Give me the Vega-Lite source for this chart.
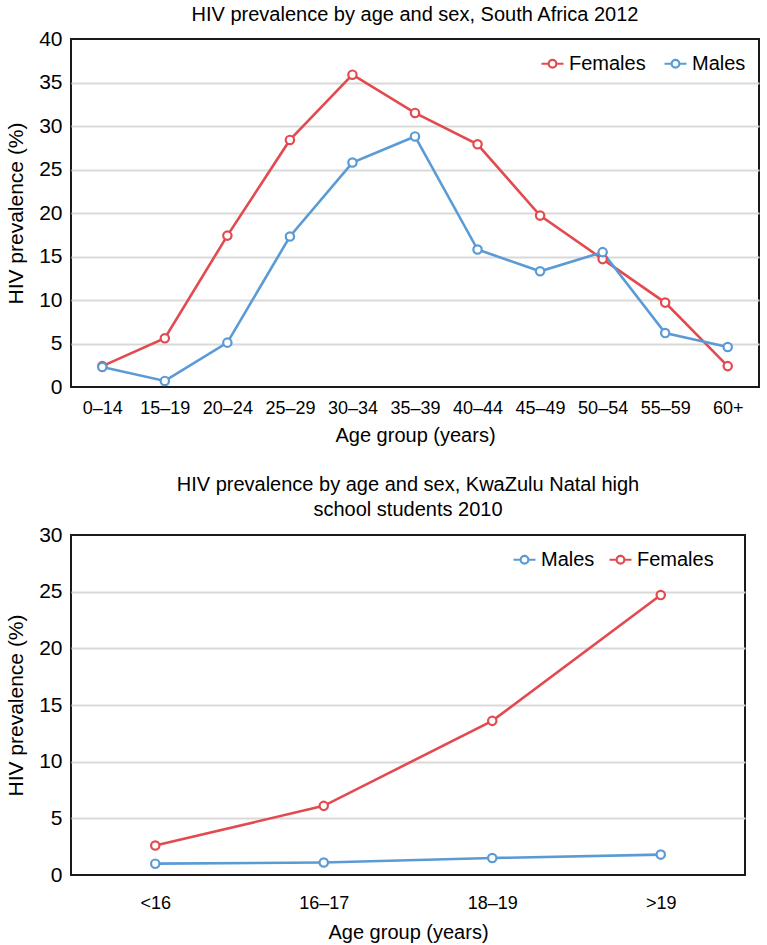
{
  "$schema": "https://vega.github.io/schema/vega-lite/v6.json",
  "background": "white",
  "padding": {"left": 4, "top": 4, "right": 4, "bottom": 2},
  "config": {
    "font": "Liberation Sans",
    "view": {"stroke": "#1a1a1a", "strokeWidth": 2},
    "axis": {"domain": false, "ticks": false, "labelColor": "#000", "titleColor": "#000", "titleFontWeight": "normal", "labelFont": "Liberation Sans", "titleFont": "Liberation Sans"},
    "title": {"fontSize": 20, "fontWeight": "normal", "color": "#000", "font": "Liberation Sans"},
    "legend": {"labelFont": "Liberation Sans"},
    "concat": {"spacing": 28}
  },
  "vconcat": [
    {
      "title": {"text": "HIV prevalence by age and sex, South Africa 2012", "anchor": "middle", "frame": "group", "offset": 3},
      "width": 688,
      "height": 348,
      "data": {"values": [
        {"age": "0–14", "sex": "Females", "value": 2.4},
        {"age": "15–19", "sex": "Females", "value": 5.6},
        {"age": "20–24", "sex": "Females", "value": 17.4},
        {"age": "25–29", "sex": "Females", "value": 28.4},
        {"age": "30–34", "sex": "Females", "value": 35.9},
        {"age": "35–39", "sex": "Females", "value": 31.5},
        {"age": "40–44", "sex": "Females", "value": 27.9},
        {"age": "45–49", "sex": "Females", "value": 19.7},
        {"age": "50–54", "sex": "Females", "value": 14.7},
        {"age": "55–59", "sex": "Females", "value": 9.7},
        {"age": "60+", "sex": "Females", "value": 2.4},
        {"age": "0–14", "sex": "Males", "value": 2.3},
        {"age": "15–19", "sex": "Males", "value": 0.7},
        {"age": "20–24", "sex": "Males", "value": 5.1},
        {"age": "25–29", "sex": "Males", "value": 17.3},
        {"age": "30–34", "sex": "Males", "value": 25.8},
        {"age": "35–39", "sex": "Males", "value": 28.8},
        {"age": "40–44", "sex": "Males", "value": 15.8},
        {"age": "45–49", "sex": "Males", "value": 13.3},
        {"age": "50–54", "sex": "Males", "value": 15.5},
        {"age": "55–59", "sex": "Males", "value": 6.2},
        {"age": "60+", "sex": "Males", "value": 4.6}
      ]},
      "mark": {"type": "line", "strokeWidth": 2.6, "point": {"filled": false, "fill": "white", "size": 70, "strokeWidth": 2.2}},
      "encoding": {
        "x": {"field": "age", "type": "ordinal", "sort": null, "scale": {"type": "point", "padding": 0.5},
          "axis": {"labelAngle": 0, "labelFontSize": 18, "labelPadding": 12, "title": "Age group (years)", "titleFontSize": 20, "titlePadding": 8}},
        "y": {"field": "value", "type": "quantitative", "scale": {"domain": [0, 40]},
          "axis": {"values": [0, 5, 10, 15, 20, 25, 30, 35, 40], "labelFontSize": 21, "labelPadding": 9, "grid": true, "gridColor": "#d9d9d9", "gridWidth": 2,
            "gridOpacity": {"condition": {"test": "datum.value == 0 || datum.value == 40", "value": 0}, "value": 1},
            "title": "HIV prevalence (%)", "titleFontSize": 21, "titlePadding": 12}},
        "stroke": {"field": "sex", "type": "nominal", "scale": {"domain": ["Females", "Males"], "range": ["#e34a4f", "#5b9bd5"]},
          "legend": {"title": null, "orient": "none", "legendX": 469, "legendY": 12, "direction": "horizontal",
            "symbolType": "M-1,0L-0.35,0M0.35,0L1,0M0.35,0A0.35,0.35,0,1,1,-0.35,0A0.35,0.35,0,1,1,0.35,0Z",
            "symbolSize": 484, "symbolStrokeWidth": 2.2, "symbolFillColor": "white", "labelFontSize": 20, "labelColor": "#000", "labelOffset": 4, "columnPadding": 14}}
      }
    },
    {
      "title": {"text": ["HIV prevalence by age and sex, KwaZulu Natal high", "school students 2010"], "anchor": "middle", "frame": "group", "offset": 4, "lineHeight": 25},
      "width": 674,
      "height": 340,
      "data": {"values": [
        {"age": "<16", "sex": "Males", "value": 1.0},
        {"age": "16–17", "sex": "Males", "value": 1.1},
        {"age": "18–19", "sex": "Males", "value": 1.5},
        {"age": ">19", "sex": "Males", "value": 1.8},
        {"age": "<16", "sex": "Females", "value": 2.6},
        {"age": "16–17", "sex": "Females", "value": 6.1},
        {"age": "18–19", "sex": "Females", "value": 13.6},
        {"age": ">19", "sex": "Females", "value": 24.7}
      ]},
      "mark": {"type": "line", "strokeWidth": 2.6, "point": {"filled": false, "fill": "white", "size": 70, "strokeWidth": 2.2}},
      "encoding": {
        "x": {"field": "age", "type": "ordinal", "sort": null, "scale": {"type": "point", "padding": 0.5},
          "axis": {"labelAngle": 0, "labelFontSize": 18, "labelPadding": 19, "title": "Age group (years)", "titleFontSize": 20, "titlePadding": 10}},
        "y": {"field": "value", "type": "quantitative", "scale": {"domain": [0, 30]},
          "axis": {"values": [0, 5, 10, 15, 20, 25, 30], "labelFontSize": 21, "labelPadding": 9, "grid": true, "gridColor": "#d9d9d9", "gridWidth": 2,
            "gridOpacity": {"condition": {"test": "datum.value == 0 || datum.value == 30", "value": 0}, "value": 1},
            "title": "HIV prevalence (%)", "titleFontSize": 21, "titlePadding": 12}},
        "stroke": {"field": "sex", "type": "nominal", "scale": {"domain": ["Males", "Females"], "range": ["#5b9bd5", "#e34a4f"]},
          "legend": {"title": null, "orient": "none", "legendX": 441, "legendY": 12, "direction": "horizontal",
            "symbolType": "M-1,0L-0.35,0M0.35,0L1,0M0.35,0A0.35,0.35,0,1,1,-0.35,0A0.35,0.35,0,1,1,0.35,0Z",
            "symbolSize": 484, "symbolStrokeWidth": 2.2, "symbolFillColor": "white", "labelFontSize": 20, "labelColor": "#000", "labelOffset": 4, "columnPadding": 10}}
      }
    }
  ],
  "resolve": {"scale": {"stroke": "independent"}, "legend": {"stroke": "independent"}}
}
